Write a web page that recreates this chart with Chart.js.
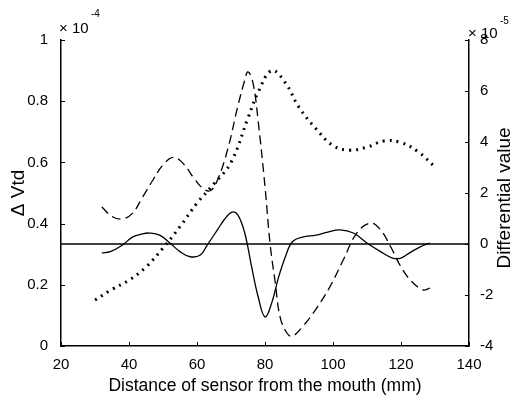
<!DOCTYPE html>
<html>
<head>
<meta charset="utf-8">
<script src="https://cdn.jsdelivr.net/npm/chart.js@4.4.1/dist/chart.umd.min.js"></script>
<style>
    html, body { margin: 0; padding: 0; background: #fff; }
    #wrap { width: 512px; height: 401px; }
</style>
</head>
<body>
<div id="wrap"><canvas id="sensorChart"></canvas></div>
<script>
// distance of sensor from the mouth (mm) and values
var dotX = [30, 35, 40, 45, 50, 55, 60, 65, 70, 75, 78, 82, 86, 90, 95, 100, 105, 110, 115, 120, 125, 130];
var dotVtd = [0.15, 0.185, 0.215, 0.258, 0.32, 0.39, 0.467, 0.53, 0.6, 0.745, 0.83, 0.9, 0.86, 0.78, 0.71, 0.655, 0.64, 0.65, 0.67, 0.665, 0.635, 0.585]; // x 1e-4

var dashX = [32, 35, 38, 41, 44, 47, 50, 53, 56, 59, 62, 64, 66, 69, 72, 74, 75, 76.5, 78, 80, 81.5, 83, 84.5, 86.5, 88, 91, 95, 99, 103, 107, 111, 114, 117, 120, 123, 126.5, 128.5];
var dashDiff = [1.45, 1.08, 0.98, 1.2, 1.84, 2.5, 3.1, 3.4, 3.15, 2.6, 2.15, 2.1, 2.5, 3.7, 5.4, 6.4, 6.75, 6.3, 4.8, 2.25, 0, -1.5, -2.9, -3.5, -3.62, -3.25, -2.55, -1.7, -0.63, 0.43, 0.82, 0.55, -0.12, -0.9, -1.45, -1.8, -1.73]; // x 1e-5

var solidX = [32, 34.5, 38, 41, 44, 46, 49, 52, 55, 58, 61, 63, 66, 68, 70.3, 72, 74, 76, 78, 80, 82, 84, 86, 88, 91, 95, 98.5, 102, 106, 110, 114, 117.5, 120, 122.5, 125.5, 128.5];
var solidDiff = [-0.35, -0.3, -0.05, 0.27, 0.4, 0.43, 0.35, 0.04, -0.3, -0.5, -0.43, -0.04, 0.55, 0.95, 1.25, 1.14, 0.45, -0.85, -2.08, -2.86, -2.3, -1.3, -0.5, 0.08, 0.27, 0.35, 0.47, 0.55, 0.43, 0.04, -0.3, -0.55, -0.55, -0.35, -0.12, 0.04];

var zeroX = [20, 140];
var zeroDiff = [0, 0];

var xTicks = [20, 40, 60, 80, 100, 120, 140];
var leftTicks = [0, 0.2, 0.4, 0.6, 0.8, 1];
var rightTicks = [-4, -2, 0, 2, 4, 6, 8];

function pts(xs, ys) {
    return xs.map(function(v, i) { return {x: v, y: ys[i]}; });
}

var tickFont = {family: "'Liberation Sans', Arial, sans-serif", size: 15};

// inward tick marks, exponent labels and the right axis title
var extras = {
    id: 'extras',
    afterDraw: function(chart) {
        var ctx = chart.ctx;
        var a = chart.chartArea;
        var sx = chart.scales.x, sy = chart.scales.y, sy2 = chart.scales.y2;
        ctx.save();
        ctx.strokeStyle = '#000';
        ctx.lineWidth = 1;
        ctx.beginPath();
        leftTicks.forEach(function(t) {
            var p = Math.round(sy.getPixelForValue(t)) + 0.5;
            ctx.moveTo(a.left, p); ctx.lineTo(a.left + 4, p);
        });
        rightTicks.forEach(function(t) {
            var p = Math.round(sy2.getPixelForValue(t)) + 0.5;
            ctx.moveTo(a.right, p); ctx.lineTo(a.right - 4, p);
        });
        xTicks.forEach(function(t) {
            var p = Math.round(sx.getPixelForValue(t)) + 0.5;
            ctx.moveTo(p, a.bottom); ctx.lineTo(p, a.bottom - 4);
        });
        ctx.stroke();

        ctx.fillStyle = '#000';
        ctx.textBaseline = 'alphabetic';
        ctx.textAlign = 'left';
        ctx.font = "15px 'Liberation Sans', Arial, sans-serif";
        ctx.fillText('\u00d7 10', 59, 33);
        ctx.fillText('\u00d7 10', 468, 38);
        ctx.font = "10px 'Liberation Sans', Arial, sans-serif";
        ctx.fillText('-4', 91, 17);
        ctx.fillText('-5', 500, 24);

        ctx.translate(505, 198);
        ctx.rotate(-Math.PI / 2);
        ctx.textAlign = 'center';
        ctx.textBaseline = 'middle';
        ctx.font = "19px 'Liberation Sans', Arial, sans-serif";
        ctx.fillText('Differential value', 0, 0);
        ctx.restore();
    }
};

var ctx = document.getElementById('sensorChart').getContext('2d');
var sensorChart = new Chart(ctx, {
    type: 'line',
    data: {
        datasets: [{
            label: 'Delta Vtd',
            data: pts(dotX, dotVtd),
            yAxisID: 'y',
            borderColor: '#000',
            borderWidth: 3,
            borderDash: [2, 5],
            tension: 0.4
        }, {
            label: 'Differential (dashed)',
            data: pts(dashX, dashDiff),
            yAxisID: 'y2',
            borderColor: '#000',
            borderWidth: 1.3,
            borderDash: [9, 5],
            tension: 0.4
        }, {
            label: 'Differential (solid)',
            data: pts(solidX, solidDiff),
            yAxisID: 'y2',
            borderColor: '#000',
            borderWidth: 1.3,
            tension: 0.4
        }, {
            label: 'Zero',
            data: pts(zeroX, zeroDiff),
            yAxisID: 'y2',
            borderColor: '#000',
            borderWidth: 1.3,
            tension: 0
        }]
    },
    options: {
        responsive: true,
        maintainAspectRatio: false,
        animation: false,
        layout: {padding: {top: 40, left: 0, right: 0, bottom: 0}},
        elements: {point: {radius: 0, hoverRadius: 0}},
        plugins: {legend: {display: false}, tooltip: {enabled: false}},
        scales: {
            x: {
                type: 'linear',
                min: 20,
                max: 140,
                afterFit: function(s) { s.height = 55; },
                afterBuildTicks: function(s) { s.ticks = xTicks.map(function(v) { return {value: v}; }); },
                grid: {display: false},
                border: {display: true, color: '#000', width: 1.5},
                ticks: {color: '#000', font: tickFont, padding: 2, maxRotation: 0},
                title: {
                    display: true,
                    text: 'Distance of sensor from the mouth (mm)',
                    color: '#000',
                    font: {family: "'Liberation Sans', Arial, sans-serif", size: 17.5},
                    padding: {top: 0, bottom: 4}
                }
            },
            y: {
                position: 'left',
                min: 0,
                max: 1,
                afterFit: function(s) { s.width = 61; },
                afterBuildTicks: function(s) { s.ticks = leftTicks.map(function(v) { return {value: v}; }); },
                grid: {display: false},
                border: {display: true, color: '#000', width: 1.5},
                ticks: {
                    color: '#000',
                    font: tickFont,
                    padding: 5,
                    callback: function(v) { return String(v); }
                },
                title: {
                    display: true,
                    text: '\u0394 Vtd',
                    color: '#000',
                    font: {family: "'Liberation Sans', Arial, sans-serif", size: 19},
                    padding: {top: 7, bottom: 0}
                }
            },
            y2: {
                position: 'right',
                min: -4,
                max: 8,
                afterFit: function(s) { s.width = 43; },
                afterBuildTicks: function(s) { s.ticks = rightTicks.map(function(v) { return {value: v}; }); },
                grid: {display: false},
                border: {display: true, color: '#000', width: 1.5},
                ticks: {color: '#000', font: tickFont, padding: 3}
            }
        }
    },
    plugins: [extras]
});
</script>
</body>
</html>
